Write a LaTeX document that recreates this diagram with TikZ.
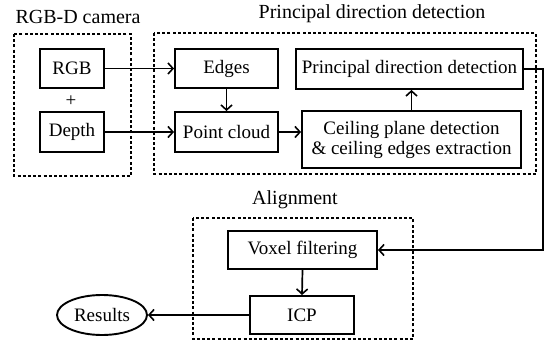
\documentclass[tikz,border=0pt]{standalone}
\usepackage{fontspec}
\setmainfont{Liberation Serif}
\usetikzlibrary{arrows.meta,shapes.geometric}
\begin{document}
\begin{tikzpicture}[x=1pt,y=-1pt,
  font=\fontsize{19}{21}\selectfont,
  boxst/.style={draw,line width=1.9pt,inner sep=0pt,align=center},
  grp/.style={draw,line width=1.6pt,dash pattern=on 3pt off 2.2pt},
  conn/.style={line width=1.7pt,-{Straight Barb[length=5pt,width=11pt,line width=1.6pt]}},
  ttl/.style={inner sep=0pt,font=\fontsize{20}{22}\selectfont}]
\useasboundingbox (0,0) rectangle (548,344);
% groups
\draw[grp] (14,34) rectangle (131,176);
\draw[grp] (154,33) rectangle (536,174);
\draw[grp] (193,218) rectangle (413,339);
\node[ttl] (t1) at (78,17) {RGB-D camera};
\node[ttl] (t2) at (372,14) {Principal direction detection};
\node[ttl] (t3) at (295,200) {Alignment};
% boxes
\node[boxst,minimum width=64pt,minimum height=39pt] (rgb) at (72,68.5) {RGB};
\node[inner sep=0pt] (plus) at (71,101) {+};
\node[boxst,minimum width=64pt,minimum height=40pt] (depth) at (72,132) {Depth};
\node[boxst,minimum width=103pt,minimum height=39pt] (edges) at (226.5,68.5) {Edges};
\node[boxst,minimum width=103pt,minimum height=40pt] (pc) at (226.5,132) {Point cloud};
\node[boxst,minimum width=227pt,minimum height=40pt] (pdd) at (409.5,69) {Principal direction detection};
\node[boxst,minimum width=219pt,minimum height=57pt] (ceil) at (411.5,139.5) {Ceiling plane detection\\[-1pt]\& ceiling edges extraction};
\node[boxst,minimum width=149pt,minimum height=38pt] (vox) at (302.5,250) {Voxel filtering};
\node[boxst,minimum width=104pt,minimum height=38pt] (icp) at (302,315) {ICP};
\node[draw,line width=1.9pt,ellipse,minimum width=90pt,minimum height=40pt,inner sep=0pt] (res) at (102,315) {Results};
\coordinate (turn) at (543,69);
% connectors
\draw[conn] (rgb.east) -- (edges.west);
\draw[conn] (depth.east) -- (pc.west);
\draw[conn] (edges.south) -- (pc.north);
\draw[conn] (pc.east) -- (pc.east -| ceil.west);
\draw[conn] (ceil.north) -- (ceil.north |- pdd.south);
\draw[conn] (pdd.east) -- (turn) |- (vox.east);
\draw[conn] (vox.south) -- (icp.north);
\draw[conn] (icp.west) -- (res.east);
\end{tikzpicture}
\end{document}
